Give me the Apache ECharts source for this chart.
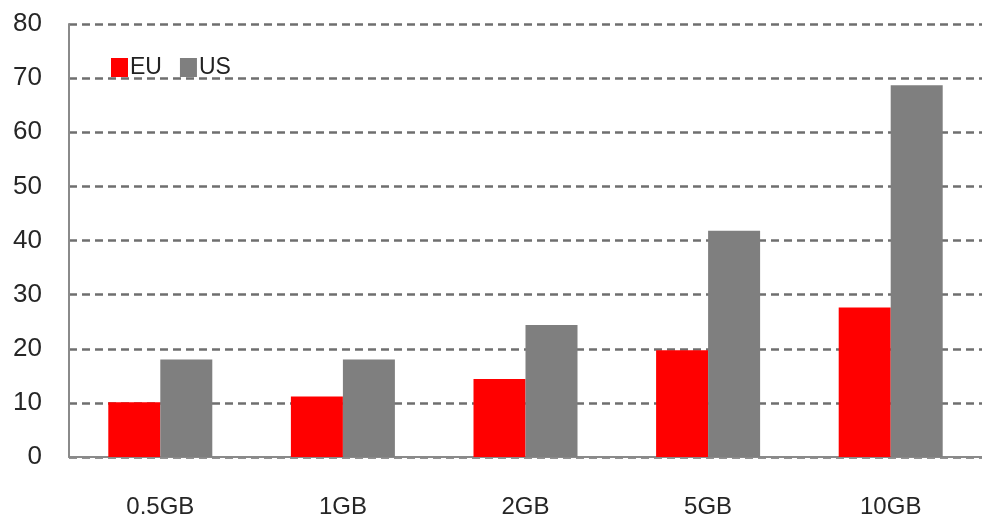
<!DOCTYPE html>
<html>
<head>
<meta charset="utf-8">
<script src="https://cdn.jsdelivr.net/npm/echarts@6/dist/echarts.min.js"></script>
<style>
html,body{margin:0;padding:0;background:#fff;}
#chart{width:982px;height:521px;}
</style>
</head>
<body>
<div id="chart"></div>
<script>
var categories = ['0.5GB', '1GB', '2GB', '5GB', '10GB'];
var euValues = [10.1, 11.2, 14.4, 19.7, 27.6];
var usValues = [18.0, 18.0, 24.4, 41.8, 68.7];
var yTicks = [0, 10, 20, 30, 40, 50, 60, 70, 80];

var chart = echarts.init(document.getElementById('chart'));
var fontFam = 'Liberation Sans, Arial, sans-serif';
chart.setOption({
  animation: false,
  backgroundColor: '#ffffff',
  grid: { left: 69, right: -2, top: 24, bottom: 64, containLabel: false },
  legend: {
    left: 106, top: 51,
    itemWidth: 17, itemHeight: 19, itemGap: 18,
    icon: 'rect',
    textStyle: { fontFamily: fontFam, fontSize: 23, color: '#222', padding: [0, 0, 0, -3] },
    data: ['EU', 'US']
  },
  xAxis: {
    type: 'category',
    data: categories,
    axisLine: { lineStyle: { color: '#8a8a8a', width: 2 } },
    axisTick: { show: false },
    axisLabel: { fontFamily: fontFam, fontSize: 24, color: '#262626', margin: 38 }
  },
  yAxis: {
    type: 'value',
    min: yTicks[0], max: yTicks[yTicks.length - 1], interval: 10,
    axisLine: { show: true, lineStyle: { color: '#8a8a8a', width: 2 } },
    axisTick: { show: false },
    axisLabel: { fontFamily: fontFam, fontSize: 26, color: '#262626', margin: 27 },
    splitLine: { show: true, lineStyle: { color: '#6f6f6f', width: 2.5, type: [8, 5] } }
  },
  series: [
    { name: 'EU', type: 'bar', data: euValues, barWidth: 52, barGap: '0%',
      itemStyle: { color: '#ff0000' } },
    { name: 'US', type: 'bar', data: usValues, barWidth: 52, barGap: '0%',
      itemStyle: { color: '#7f7f7f' } }
  ]
});
</script>
</body>
</html>
